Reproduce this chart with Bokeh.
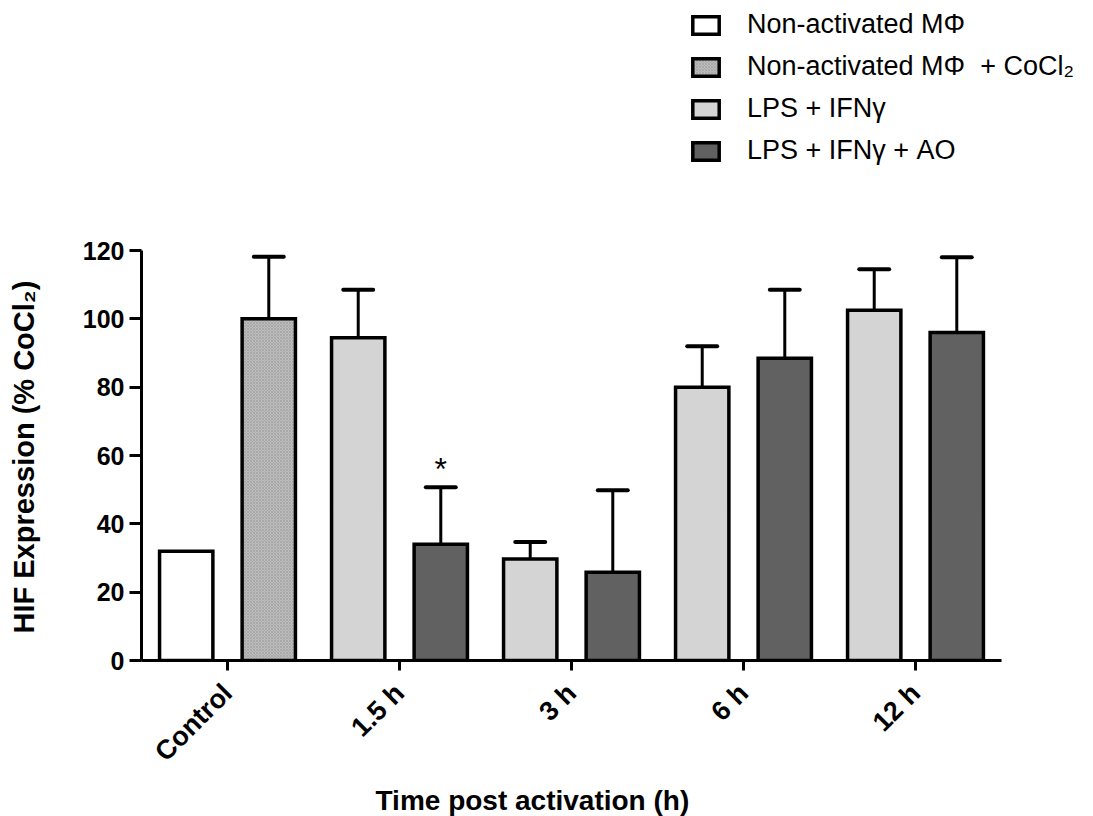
import math
from bokeh.plotting import figure
from bokeh.models import (ColumnDataSource, Range1d, Legend, LegendItem,
                          Title, FixedTicker)
from bokeh.transform import dodge
from bokeh.core.properties import value
from bokeh.embed import file_html
from bokeh.resources import INLINE

# ---------------- data ----------------
categories = ["Control", "1.5 h", "3 h", "6 h", "12 h"]

nonact_cats = ["Control"]
nonact_vals = [32.0]

cocl2_cats = ["Control"]
cocl2_vals = [100.0]
cocl2_sem = [18.2]

lps_cats = ["1.5 h", "3 h", "6 h", "12 h"]
lps_vals = [94.5, 29.7, 80.0, 102.5]
lps_sem = [14.0, 5.0, 12.0, 12.0]

ao_cats = ["1.5 h", "3 h", "6 h", "12 h"]
ao_vals = [34.0, 25.8, 88.5, 96.0]
ao_sem = [16.7, 24.0, 20.0, 22.0]
ao_marks = ["*", "", "", ""]

series_labels = ["Non-activated M\u03a6",
                 "Non-activated M\u03a6\u00a0 + CoCl\u2082",
                 "LPS + IFN\u03b3",
                 "LPS + IFN\u03b3 + AO"]
y_ticks = [0, 20, 40, 60, 80, 100, 120]
y_label = "HIF Expression (% CoCl\u2082)"
x_label = "Time post activation (h)"

FONT = "Liberation Sans"
OFF = 0.24
BW = 0.31
CAP = 0.087

# plot geometry: axes occupy 860 x 410 px of a larger frame that also holds the legend
AX_W, AX_H = 860, 410
FR_W, FR_H = 944, 660
n = len(categories)
y_max = y_ticks[-1]

p = figure(x_range=Range1d(0, n * FR_W / AX_W),
           y_range=Range1d(0, y_max * FR_H / AX_H),
           frame_width=FR_W, frame_height=FR_H,
           min_border_left=141, min_border_right=8,
           min_border_top=0, min_border_bottom=156,
           output_backend="svg", toolbar_location=None)

p.outline_line_color = None
p.xgrid.visible = False
p.ygrid.visible = False
p.background_fill_color = "white"

centers = {c: i + 0.5 for i, c in enumerate(categories)}


def make_src(cats, vals, sem=None, marks=None):
    d = dict(cat=cats, xc=[centers[c] for c in cats], val=vals)
    if sem is not None:
        d["upper"] = [v + s for v, s in zip(vals, sem)]
    if marks is not None:
        d["mark"] = marks
    return ColumnDataSource(d)


s_non = make_src(nonact_cats, nonact_vals)
s_co = make_src(cocl2_cats, cocl2_vals, cocl2_sem)
s_lps = make_src(lps_cats, lps_vals, lps_sem)
s_ao = make_src(ao_cats, ao_vals, ao_sem, ao_marks)

series = [
    (s_non, -OFF, dict(fill_color="white")),
    (s_co, OFF, dict(fill_color="#bdbdbd", hatch_pattern="x", hatch_scale=3,
                     hatch_color="#9a9a9a", hatch_weight=0.6)),
    (s_lps, -OFF, dict(fill_color="#d4d4d4")),
    (s_ao, OFF, dict(fill_color="#616161")),
]

bar_renderers = []
for src, off, style in series:
    if "upper" in src.data:
        p.segment(x0=dodge("xc", off), y0="val", x1=dodge("xc", off), y1="upper",
                  source=src, line_color="black", line_width=3)
        p.segment(x0=dodge("xc", off - CAP), y0="upper",
                  x1=dodge("xc", off + CAP), y1="upper",
                  source=src, line_color="black", line_width=4, line_cap="round")
    r = p.vbar(x=dodge("xc", off), top="val", bottom=0,
               width=BW, source=src, line_color="black", line_width=3.5,
               line_join="miter", **style)
    bar_renderers.append(r)

# significance mark
p.text(x=dodge("xc", OFF), y="upper", text="mark", source=s_ao,
       text_align="center", text_baseline="alphabetic", y_offset=-18,
       text_font=value(FONT), text_font_size="32px", text_color="black")

# axes
for ax in (p.xaxis[0], p.yaxis[0]):
    ax.axis_line_width = 3
    ax.axis_line_color = "black"
    ax.major_tick_line_width = 3
    ax.major_tick_line_color = "black"
    ax.major_tick_in = 0
    ax.minor_tick_line_color = None
    ax.major_label_text_font = FONT
    ax.major_label_text_font_style = "bold"
    ax.major_label_text_font_size = "25px"
    ax.major_label_text_color = "black"

yax = p.yaxis[0]
yax.ticker = FixedTicker(ticks=y_ticks)
yax.bounds = (0, y_max)
yax.major_tick_out = 12
yax.major_label_standoff = 5

xax = p.xaxis[0]
xax.ticker = FixedTicker(ticks=[centers[c] for c in categories])
xax.major_label_overrides = {centers[c]: c for c in categories}
xax.bounds = (0, n)
xax.major_tick_out = 10
xax.major_label_orientation = math.pi / 4
xax.major_label_standoff = 18
xax.major_label_text_font_size = "27px"

p.add_layout(Title(text=y_label, align="left", offset=27, standoff=4,
                   padding=dict(left=0, right=0, top=0, bottom=38),
                   text_font=FONT, text_font_style="bold", text_font_size="29px",
                   text_color="black"), "left")
p.add_layout(Title(text=x_label, align="left", offset=234, standoff=4,
                   text_font=FONT, text_font_style="bold", text_font_size="28px",
                   text_color="black"), "below")

legend = Legend(items=[LegendItem(label=lab, renderers=[r])
                       for lab, r in zip(series_labels, bar_renderers)],
                location=(548, 494), glyph_width=33, glyph_height=22,
                label_text_font=FONT, label_text_font_size="27px",
                label_text_color="black", label_text_baseline="bottom",
                label_standoff=25, spacing=11, padding=0, margin=0,
                border_line_alpha=0, background_fill_alpha=0)
p.add_layout(legend, "center")

open("out.html", "w").write(file_html(p, INLINE))
